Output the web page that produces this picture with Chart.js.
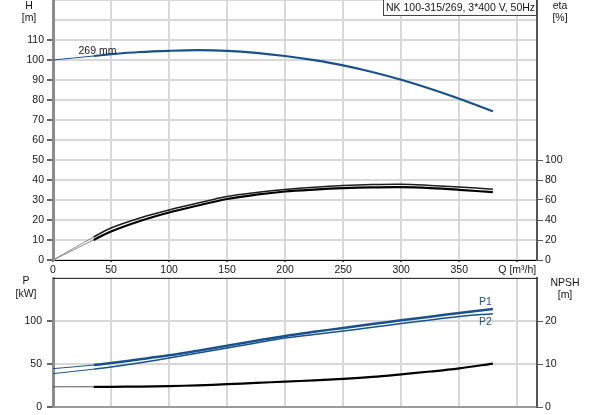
<!DOCTYPE html>
<html>
<head>
<meta charset="utf-8">
<script src="https://cdn.jsdelivr.net/npm/chart.js@4.4.1/dist/chart.umd.min.js"></script>
<style>
  html, body { margin: 0; padding: 0; background: #fff; }
  #top { position: absolute; left: 0; top: 0; }
  #bottom { position: absolute; left: 0; top: 275px; }
</style>
</head>
<body>
<canvas id="top" width="593" height="275"></canvas>
<canvas id="bottom" width="593" height="140"></canvas>
<script>
// values
var flowQ = [0, 35, 50, 75, 100, 125, 150, 175, 200, 225, 250, 275, 300, 325, 350, 379]
var headH = [100, 102, 102.9, 104, 104.6, 104.9, 104.6, 103.6, 102, 99.9, 97.3, 94, 90.1, 85.6, 80.6, 74.4]
var etaUpper = [0, 23, 32, 42, 50, 57, 63.5, 67.5, 70.5, 72.8, 74.5, 75.5, 75.8, 74.6, 73, 70.8]
var etaLower = [0, 20, 28.5, 39, 47.5, 54.5, 61, 65.3, 68.5, 70.4, 71.8, 72.6, 72.8, 71.9, 70.2, 67.8]
var powerP1 = [44.6, 48.8, 51.2, 55.5, 60.1, 65.5, 71.2, 77, 82.6, 87.4, 91.9, 96.4, 100.8, 105, 109.3, 114]
var powerP2 = [38.8, 44, 46.5, 51.5, 57, 62.8, 68.6, 74.5, 80.2, 84.4, 88.4, 92.7, 97, 101.2, 105.3, 108.5]
var npshR = [4.7, 4.7, 4.7, 4.75, 4.85, 5.05, 5.3, 5.6, 5.9, 6.2, 6.55, 7, 7.6, 8.25, 9, 10.1]

var qTicks = [0, 50, 100, 150, 200, 250, 300, 350, 400]
var hTicks = [0, 10, 20, 30, 40, 50, 60, 70, 80, 90, 100, 110, 120, 130]
var etaTicks = [0, 20, 40, 60, 80, 100]
var pTicks = [0, 50, 100, 150]
var npshTicks = [0, 10, 20]

var title = "NK 100-315/269, 3*400 V, 50Hz"
var impeller = "269 mm"

var FONT = { family: "'Liberation Sans', Arial, sans-serif", size: 10.5 }
var FONT_CSS = "10.5px 'Liberation Sans', Arial, sans-serif"
var TEXT = "#151515"
var BLUE = "#17518e"
var GRID = "#d8d8d8"

function points(ys) {
  return flowQ.map(function (q, i) {
    return { x: q, y: ys[i] }
  })
}

// first piece (below min flow) is drawn thin
function curve(ys, axis, color, width, startColor) {
  return {
    data: points(ys),
    yAxisID: axis,
    borderColor: color,
    borderWidth: width,
    pointRadius: 0,
    fill: false,
    tension: 0.35,
    segment: {
      borderWidth: function (ctx) {
        return ctx.p0DataIndex === 0 ? 1 : width
      },
      borderColor: function (ctx) {
        return ctx.p0DataIndex === 0 ? startColor : color
      },
    },
  }
}

function setTicks(list) {
  return function (scale) {
    scale.ticks = list.map(function (v) {
      return { value: v }
    })
  }
}

// fixed axis size, and no extra room for half labels at the ends
function fixSize(key, size) {
  return function (scale) {
    scale[key] = size
    scale.paddingTop = 0
    scale.paddingBottom = 0
    scale.paddingLeft = 0
    scale.paddingRight = 0
  }
}

function label(ctx, text, x, y, align, color) {
  ctx.save()
  ctx.font = FONT_CSS
  ctx.fillStyle = color || TEXT
  ctx.textAlign = align || "center"
  ctx.textBaseline = "middle"
  ctx.fillText(text, x, y)
  ctx.restore()
}

function xAxis(showLabels, height) {
  return {
    type: "linear",
    min: 0,
    max: 417,
    afterBuildTicks: setTicks(qTicks),
    afterFit: fixSize("height", height),
    grid: { color: GRID, lineWidth: 2, drawTicks: showLabels, tickLength: 2, tickColor: "#666" },
    border: showLabels ? { color: "#000", width: 1 } : { color: "#9a9a9a", width: 2 },
    ticks: {
      display: showLabels,
      font: FONT,
      color: TEXT,
      padding: 2,
      maxRotation: 0,
      autoSkip: false,
      callback: function (v) {
        return v === 400 ? "Q [m³/h]" : v
      },
    },
  }
}

function leftAxis(min, max, list, lastLabel, pad) {
  return {
    position: "left",
    min: min,
    max: max,
    afterBuildTicks: setTicks(list),
    afterFit: fixSize("width", 53),
    grid: {
      color: GRID,
      lineWidth: 2,
      tickLength: 6,
      tickColor: function (c) {
        return c.tick && c.tick.value > lastLabel ? "rgba(0,0,0,0)" : "#666"
      },
    },
    border: { color: "#8c8c8c", width: 3 },
    ticks: {
      font: FONT,
      color: TEXT,
      padding: pad,
      callback: function (v) {
        return v > lastLabel ? "" : v
      },
    },
  }
}

function rightAxis(min, max, list) {
  return {
    position: "right",
    min: min,
    max: max,
    afterBuildTicks: setTicks(list),
    afterFit: fixSize("width", 56),
    grid: { drawOnChartArea: false, tickLength: 6, tickColor: "#555" },
    border: { color: "#555", width: 2 },
    ticks: { font: FONT, color: TEXT, padding: 2 },
  }
}

var topLabels = {
  id: "topLabels",
  afterDraw: function (chart) {
    var ctx = chart.ctx
    var xs = chart.scales.x
    var ys = chart.scales.h
    label(ctx, "H", 29, 6)
    label(ctx, "[m]", 29, 18)
    label(ctx, "eta", 560, 6)
    label(ctx, "[%]", 560, 18)
    label(ctx, impeller, xs.getPixelForValue(22), ys.getPixelForValue(headH[0]) - 9, "left")

    ctx.save()
    ctx.fillStyle = "#fff"
    ctx.fillRect(383, 0, 154, 15)
    ctx.strokeStyle = "#444"
    ctx.lineWidth = 1
    ctx.strokeRect(383.5, -0.5, 153, 16)
    ctx.restore()
    label(ctx, title, 386, 8, "left")
  },
}

var bottomLabels = {
  id: "bottomLabels",
  afterDraw: function (chart) {
    var ctx = chart.ctx
    var area = chart.chartArea
    var xs = chart.scales.x
    var ps = chart.scales.p
    var last = flowQ.length - 1
    ctx.save()
    ctx.strokeStyle = "#333"
    ctx.lineWidth = 1
    ctx.beginPath()
    ctx.moveTo(area.left, area.top + 0.5)
    ctx.lineTo(area.right, area.top + 0.5)
    ctx.stroke()
    ctx.restore()
    label(ctx, "P", 26, 6)
    label(ctx, "[kW]", 26, 19)
    label(ctx, "NPSH", 565, 8)
    label(ctx, "[m]", 565, 20)
    var xEnd = xs.getPixelForValue(flowQ[last]) - 1
    label(ctx, "P1", xEnd, ps.getPixelForValue(powerP1[last]) - 7, "right", BLUE)
    label(ctx, "P2", xEnd, ps.getPixelForValue(powerP2[last]) + 8, "right", BLUE)
  },
}

var common = {
  responsive: false,
  animation: false,
  events: [],
  plugins: { legend: { display: false }, tooltip: { enabled: false } },
}

new Chart(document.getElementById("top"), {
  type: "line",
  data: {
    datasets: [
      curve(etaUpper, "eta", "#1c1c1c", 1.5, "#8a8a8a"),
      curve(etaLower, "eta", "#000", 2.2, "#8a8a8a"),
      curve(headH, "h", BLUE, 2.2, BLUE),
    ],
  },
  options: Object.assign({}, common, {
    layout: { padding: { top: 0, left: 0, right: 0, bottom: 0 } },
    scales: {
      x: xAxis(true, 15),
      h: leftAxis(0, 130, hTicks, 110, 3),
      eta: rightAxis(0, 260, etaTicks),
    },
  }),
  plugins: [topLabels],
})

new Chart(document.getElementById("bottom"), {
  type: "line",
  data: {
    datasets: [
      curve(npshR, "npsh", "#000", 2.2, "#555"),
      curve(powerP2, "p", BLUE, 1.5, BLUE),
      curve(powerP1, "p", BLUE, 2.5, BLUE),
    ],
  },
  options: Object.assign({}, common, {
    layout: { padding: { top: 3, left: 0, right: 0, bottom: 0 } },
    scales: {
      x: xAxis(false, 8),
      p: leftAxis(0, 150, pTicks, 100, 5),
      npsh: rightAxis(0, 30, npshTicks),
    },
  }),
  plugins: [bottomLabels],
})
</script>
</body>
</html>
